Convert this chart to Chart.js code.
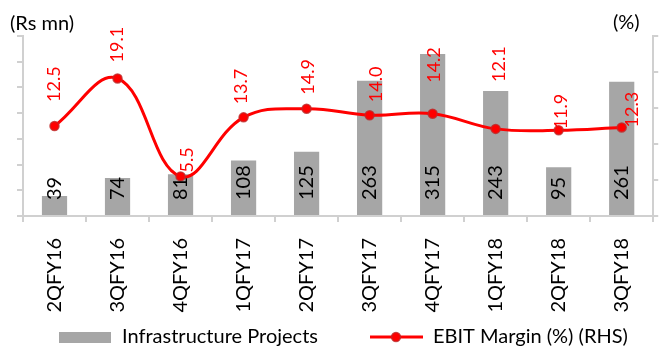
<!DOCTYPE html>
<html>
<head>
<meta charset="utf-8">
<script src="https://cdn.jsdelivr.net/npm/chart.js"></script>
<style>
  html, body { margin: 0; padding: 0; background: #fff; }
  #wrap { width: 662px; height: 348px; }
</style>
</head>
<body>
<div id="wrap"><canvas id="mainChart" width="662" height="348"></canvas></div>
<script>
// quarterly figures
const quarters = ['2QFY16', '3QFY16', '4QFY16', '1QFY17', '2QFY17', '3QFY17', '4QFY17', '1QFY18', '2QFY18', '3QFY18'];
const infraRevenue = [39, 74, 81, 108, 125, 263, 315, 243, 95, 261];
const ebitMargin = [12.5, 19.1, 5.5, 13.7, 14.9, 14.0, 14.2, 12.1, 11.9, 12.3];

// axis ranges (no tick labels are printed)
const revenueMax = 350, revenueStep = 50;
const marginMax = 25, marginStep = 5;

// hand-placed nudges for the margin labels: [dx, lift above point] in px
const marginLabelShift = [[0, 24], [0, 16], [7, 4], [-2, 13], [2, 14], [7, 13], [2, 31], [4, 47], [3, 1], [10, 0]];

const axisGrey = '#d0d0d0';
const barGrey = '#a6a6a6';
const red = '#ff0000';
const font = 'Lato';

function makeIcon(draw) {
    const c = document.createElement('canvas');
    c.width = 105;
    c.height = 14;
    draw(c.getContext('2d'));
    return c;
}

const barIcon = makeIcon(g => {
    g.fillStyle = barGrey;
    g.fillRect(52, 2, 52, 11);
});
const lineIcon = makeIcon(g => {
    g.strokeStyle = red;
    g.lineWidth = 3;
    g.beginPath();
    g.moveTo(52, 7);
    g.lineTo(105, 7);
    g.stroke();
    g.fillStyle = red;
    g.strokeStyle = 'rgba(190,40,40,0.8)';
    g.lineWidth = 1.5;
    g.beginPath();
    g.arc(78, 7, 4.5, 0, Math.PI * 2);
    g.fill();
    g.stroke();
});
const legendIcons = [barIcon, lineIcon];

function drawUp(g, text, x, y) {
    g.save();
    g.translate(x, y);
    g.rotate(-Math.PI / 2);
    g.fillText(text, 0, 0);
    g.restore();
}

const valueLabels = {
    id: 'valueLabels',
    afterDatasetsDraw(chart) {
        const g = chart.ctx;
        const bars = chart.getDatasetMeta(0).data;
        const pts = chart.getDatasetMeta(1).data;
        g.save();
        g.textAlign = 'left';
        g.textBaseline = 'middle';
        g.font = '20px ' + font;
        g.fillStyle = '#000';
        bars.forEach((bar, i) => drawUp(g, String(infraRevenue[i]), bar.x, bar.base - 15));
        g.font = '18px ' + font;
        g.fillStyle = red;
        pts.forEach((pt, i) => {
            const [dx, lift] = marginLabelShift[i];
            drawUp(g, ebitMargin[i].toFixed(1), pt.x + dx, pt.y - lift);
        });
        g.restore();
    }
};

const axisUnits = {
    id: 'axisUnits',
    afterDraw(chart) {
        const g = chart.ctx;
        g.save();
        g.font = '20px ' + font;
        g.fillStyle = '#000';
        g.textBaseline = 'middle';
        g.fillText('(Rs mn)', 10, 24);
        g.fillText('(%)', 613, 23);
        g.restore();
    }
};

const gridOpts = (len) => ({ drawOnChartArea: false, color: axisGrey, lineWidth: 2, tickLength: len });

new Chart(document.getElementById('mainChart'), {
    type: 'bar',
    data: {
        labels: quarters,
        datasets: [{
            type: 'bar',
            label: 'Infrastructure Projects',
            data: infraRevenue,
            yAxisID: 'y',
            backgroundColor: barGrey,
            barPercentage: 0.4,
            categoryPercentage: 1,
            order: 1
        }, {
            type: 'line',
            label: 'EBIT Margin (%) (RHS)',
            data: ebitMargin,
            yAxisID: 'y1',
            borderColor: red,
            borderWidth: 3,
            tension: 0.4,
            pointRadius: 4.5,
            pointBackgroundColor: red,
            pointBorderColor: 'rgba(190,40,40,0.8)',
            pointBorderWidth: 1.5,
            order: 0
        }]
    },
    options: {
        responsive: false,
        animation: false,
        layout: { padding: { left: 7, right: 0, top: 36, bottom: -9 } },
        plugins: {
            tooltip: { enabled: false },
            legend: {
                position: 'bottom',
                align: 'start',
                labels: {
                    usePointStyle: true,
                    pointStyleWidth: 105,
                    padding: 0,
                    color: '#000',
                    font: { family: font, size: 20 },
                    generateLabels: chart => chart.data.datasets.map((ds, i) => ({
                        text: ds.label,
                        pointStyle: legendIcons[i],
                        fillStyle: 'transparent',
                        strokeStyle: 'transparent',
                        lineWidth: 0,
                        hidden: false,
                        datasetIndex: i,
                        fontColor: '#000'
                    }))
                }
            }
        },
        scales: {
            x: {
                offset: true,
                grid: Object.assign(gridOpts(6), { offset: true }),
                border: { color: axisGrey, width: 2 },
                ticks: {
                    autoSkip: false,
                    minRotation: 90,
                    maxRotation: 90,
                    padding: 16,
                    color: '#000',
                    font: { family: font, size: 20 }
                },
                afterFit: s => { s.height = 111; }
            },
            y: {
                position: 'left',
                min: 0,
                max: revenueMax,
                ticks: { stepSize: revenueStep, display: false },
                grid: gridOpts(6),
                border: { color: axisGrey, width: 2 },
                afterFit: s => { s.width = 16; }
            },
            y1: {
                position: 'right',
                min: 0,
                max: marginMax,
                ticks: { stepSize: marginStep, display: false },
                grid: gridOpts(5),
                border: { color: axisGrey, width: 2 },
                afterFit: s => { s.width = 5; }
            }
        }
    },
    plugins: [valueLabels, axisUnits]
});
</script>
</body>
</html>
